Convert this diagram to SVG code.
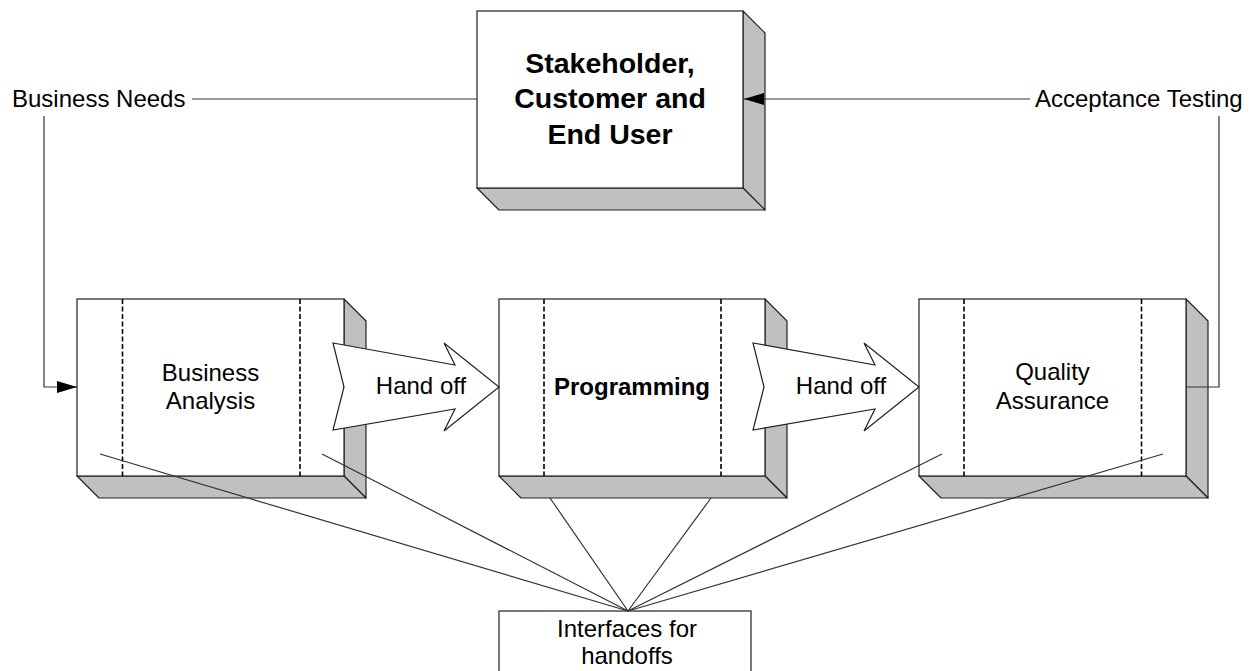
<svg xmlns="http://www.w3.org/2000/svg" width="1260" height="671" viewBox="0 0 1260 671">
  <style>
    .face { fill: #ffffff; stroke: #222; stroke-width: 1.2; }
    .side { fill: #c0c0c0; stroke: #222; stroke-width: 1.2; stroke-linejoin: round; }
    .lane { stroke: #000; stroke-width: 1.6; stroke-dasharray: 5 2.5; fill: none; }
    .conn { stroke: #333; stroke-width: 1.2; fill: none; }
    .txt { font-family: "Liberation Sans", Arial, sans-serif; font-size: 24px; fill: #000; text-anchor: middle; }
    .lbl { font-family: "Liberation Sans", Arial, sans-serif; font-size: 24px; fill: #000; }
    .bold { font-weight: bold; }
    .handoff { fill: #ffffff; stroke: #222; stroke-width: 1.2; stroke-linejoin: miter; }
  </style>
  <defs>
    <marker id="head" viewBox="0 0 20 12" refX="20" refY="6" markerWidth="20" markerHeight="12" markerUnits="userSpaceOnUse" orient="auto">
      <path d="M0,0 L20,6 L0,12 z" fill="#000"/>
    </marker>
  </defs>

  <!-- Stakeholder block (3D box) -->
  <g id="stakeholder">
    <polygon class="side" points="743,11 765,33 765,210 743,188"/>
    <polygon class="side" points="477,188 743,188 765,210 499,210"/>
    <rect class="face" x="477" y="11" width="266" height="177"/>
    <text class="txt bold" style="font-size:28.5px" x="610" y="72.5">Stakeholder,</text>
    <text class="txt bold" style="font-size:28.5px" x="610" y="108">Customer and</text>
    <text class="txt bold" style="font-size:28.5px" x="610" y="143.5">End User</text>
  </g>

  <!-- Business Analysis -->
  <g id="business-analysis">
    <polygon class="side" points="344,299 366,321 366,498 344,476"/>
    <polygon class="side" points="77,476 344,476 366,498 99,498"/>
    <rect class="face" x="77" y="299" width="267" height="177"/>
    <line class="lane" x1="122.5" y1="299" x2="122.5" y2="476"/>
    <line class="lane" x1="300" y1="299" x2="300" y2="476"/>
    <text class="txt" x="210.5" y="381">Business</text>
    <text class="txt" x="210.5" y="409">Analysis</text>
  </g>

  <!-- Programming -->
  <g id="programming">
    <polygon class="side" points="765,299 787,321 787,498 765,476"/>
    <polygon class="side" points="499,476 765,476 787,498 521,498"/>
    <rect class="face" x="499" y="299" width="266" height="177"/>
    <line class="lane" x1="544" y1="299" x2="544" y2="476"/>
    <line class="lane" x1="721" y1="299" x2="721" y2="476"/>
    <text class="txt bold" x="632" y="395">Programming</text>
  </g>

  <!-- Quality Assurance -->
  <g id="quality-assurance">
    <polygon class="side" points="1186,299 1208,321 1208,498 1186,476"/>
    <polygon class="side" points="919,476 1186,476 1208,498 941,498"/>
    <rect class="face" x="919" y="299" width="267" height="177"/>
    <line class="lane" x1="964" y1="299" x2="964" y2="476"/>
    <line class="lane" x1="1141.5" y1="299" x2="1141.5" y2="476"/>
    <text class="txt" x="1052.5" y="380">Quality</text>
    <text class="txt" x="1052.5" y="408.5">Assurance</text>
  </g>

  <!-- Hand off block arrows -->
  <g id="handoff-1">
    <polygon class="handoff" points="333,343 455,365 444,343 499,387 444,431 455,409 333,430 344,387"/>
    <text class="txt" x="421" y="394">Hand off</text>
  </g>
  <g id="handoff-2">
    <polygon class="handoff" points="753,343 875,365 864,343 919,387 864,431 875,409 753,430 764,387"/>
    <text class="txt" x="841" y="394">Hand off</text>
  </g>

  <!-- Interfaces box -->
  <g id="interfaces">
    <rect class="face" x="499" y="611" width="252" height="75"/>
    <text class="txt" x="627" y="637">Interfaces for</text>
    <text class="txt" x="627" y="664">handoffs</text>
  </g>

  <!-- Side labels -->
  <g id="business-needs">
    <text class="lbl" x="12" y="107">Business Needs</text>
  </g>
  <g id="acceptance-testing">
    <text class="lbl" x="1035" y="107">Acceptance Testing</text>
  </g>

  <!-- Connectors -->
  <g id="connectors">
    <line class="conn" x1="192" y1="99" x2="477" y2="99"/>
    <polyline class="conn" points="44,116 44,387 77,387" marker-end="url(#head)"/>
    <line class="conn" x1="1030" y1="99" x2="744" y2="99" marker-end="url(#head)"/>
    <polyline class="conn" points="1219,116 1219,387 1186,387"/>
    <line class="conn" x1="100" y1="454" x2="628" y2="611"/>
    <line class="conn" x1="322" y1="454" x2="628" y2="611"/>
    <line class="conn" x1="550" y1="498" x2="628" y2="611"/>
    <line class="conn" x1="711" y1="498" x2="628" y2="611"/>
    <line class="conn" x1="942" y1="454" x2="628" y2="611"/>
    <line class="conn" x1="1163" y1="454" x2="628" y2="611"/>
  </g>
</svg>
